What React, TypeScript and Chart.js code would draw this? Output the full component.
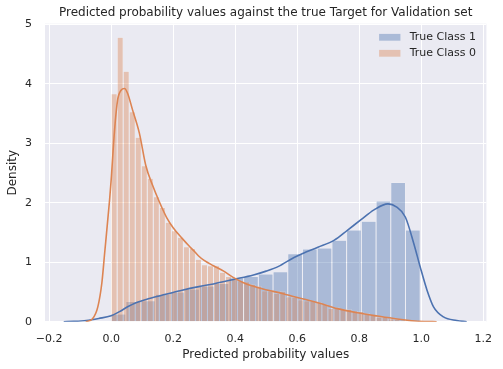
import React, { useEffect, useRef } from 'react';
import { Chart, registerables } from 'chart.js';

Chart.register(...registerables);

// ---------- data ----------
const CHART_TITLE = 'Predicted probability values against the true Target for Validation set';
const X_TITLE = 'Predicted probability values';
const Y_TITLE = 'Density';
const CLASS1_LABEL = 'True Class 1';
const CLASS0_LABEL = 'True Class 0';

const xTickValues = [-0.2, 0, 0.2, 0.4, 0.6, 0.8, 1.0, 1.2];
const yTickValues = [0, 1, 2, 3, 4, 5];

// histogram of True Class 1 (21 equal bins over its range)
const class1BinRange = [0.0, 0.997];
const class1Density = [
  0.13, 0.34, 0.35, 0.46, 0.5, 0.55, 0.6, 0.64, 0.74, 0.76, 0.8,
  0.84, 1.14, 1.22, 1.24, 1.37, 1.54, 1.69, 2.03, 2.34, 1.54,
];

// histogram of True Class 0 (50 equal bins over its range)
const class0BinRange = [0.0, 0.971];
const class0Density = [
  3.83, 4.78, 4.21, 3.53, 3.1, 2.62, 2.41, 2.1, 1.92, 1.67,
  1.53, 1.42, 1.26, 1.23, 1.05, 0.955, 0.94, 0.94, 0.83, 0.76,
  0.71, 0.69, 0.67, 0.63, 0.6, 0.52, 0.52, 0.48, 0.51, 0.42,
  0.41, 0.37, 0.35, 0.34, 0.325, 0.29, 0.22, 0.24, 0.21, 0.21,
  0.185, 0.17, 0.14, 0.11, 0.08, 0.08, 0.05, 0.04, 0.02, 0.015,
];

// KDE curves
const class1KdeX = [
  -0.153, -0.12, -0.08, -0.04, 0.0, 0.027, 0.053, 0.08, 0.123, 0.176, 0.229,
  0.283, 0.33, 0.395, 0.459, 0.5, 0.54, 0.59, 0.62, 0.667, 0.72, 0.763,
  0.805, 0.848, 0.893, 0.92, 0.949, 0.976, 0.997, 1.019, 1.04, 1.072, 1.115, 1.147,
];
const class1KdeY = [
  0, 0.005, 0.02, 0.055, 0.1, 0.17, 0.25, 0.32, 0.39, 0.46, 0.53,
  0.59, 0.635, 0.71, 0.785, 0.85, 0.93, 1.08, 1.15, 1.25, 1.37, 1.54,
  1.71, 1.88, 1.98, 1.93, 1.76, 1.32, 0.92, 0.53, 0.25, 0.08, 0.02, 0,
];
const class0KdeX = [
  -0.082, -0.06, -0.043, -0.03, -0.021, -0.005, 0.0, 0.011, 0.021, 0.032,
  0.043, 0.053, 0.069, 0.091, 0.112, 0.133, 0.155, 0.18, 0.2, 0.229, 0.25,
  0.267, 0.283, 0.3, 0.33, 0.363, 0.395, 0.427, 0.459, 0.49, 0.523, 0.555,
  0.587, 0.62, 0.667, 0.73, 0.795, 0.859, 0.923, 0.97, 1.01, 1.05,
];
const class0KdeY = [
  0, 0.05, 0.25, 0.65, 1.15, 2.05, 2.38, 3.22, 3.73, 3.89,
  3.92, 3.84, 3.56, 3.17, 2.62, 2.3, 2.02, 1.74, 1.58, 1.4, 1.28,
  1.19, 1.1, 1.03, 0.94, 0.85, 0.74, 0.655, 0.595, 0.55, 0.51, 0.47,
  0.425, 0.38, 0.32, 0.22, 0.15, 0.095, 0.045, 0.017, 0.004, 0,
];

// ---------- styles ----------
const FONT = "'DejaVu Sans', 'Liberation Sans', sans-serif";
const TEXT = '#262626';
const BG = '#EAEAF2';
const BLUE = '#4C72B0';
const ORANGE = '#DD8452';
const BLUE_FILL = 'rgba(76,114,176,0.4)';
const ORANGE_FILL = 'rgba(221,132,82,0.4)';
const EDGE = 'rgba(255,255,255,0.45)';
const X_MIN = -0.2134;
const X_MAX = 1.2106;
const Y_MAX = 5.008;

function histPoints(range: number[], dens: number[]) {
  const w = (range[1] - range[0]) / dens.length;
  return dens.map((d, i) => ({ x: range[0] + (i + 0.5) * w, y: d }));
}
function curvePoints(xs: number[], ys: number[]) {
  return xs.map((x, i) => ({ x, y: ys[i] }));
}
function fmtX(v: number) {
  const s = Math.abs(v).toFixed(1);
  return v < -1e-9 ? '\u2212' + s : s;
}

const bgPlugin = {
  id: 'seabornBg',
  beforeDraw(chart: any) {
    const { ctx, chartArea: a } = chart;
    ctx.save();
    ctx.fillStyle = BG;
    ctx.fillRect(a.left, a.top, a.right - a.left, a.bottom - a.top);
    ctx.restore();
  },
};

const legendPlugin = {
  id: 'seabornLegend',
  afterDraw(chart: any) {
    const { ctx, chartArea: a } = chart;
    const items = chart.data.datasets.filter((d: any) => d.type === 'bar').reverse();
    ctx.save();
    ctx.font = `11px ${FONT}`;
    ctx.textBaseline = 'middle';
    ctx.textAlign = 'left';
    items.forEach((d: any, i: number) => {
      const cy = a.top + 13.6 + i * 16;
      ctx.fillStyle = d.backgroundColor;
      ctx.fillRect(a.right - 107.3, cy - 3.4, 21.3, 6.8);
      ctx.fillStyle = TEXT;
      ctx.fillText(d.label, a.right - 76.7, cy);
    });
    ctx.restore();
  },
};

function hiddenX() {
  return {
    type: 'linear',
    display: false,
    offset: false,
    grid: { offset: false },
    min: X_MIN,
    max: X_MAX,
    afterBuildTicks: (s: any) => {
      s.ticks = [];
    },
  };
}

export default function App() {
  const ref = useRef<HTMLCanvasElement | null>(null);
  useEffect(() => {
    if (!ref.current) return;
    const barCommon = {
      type: 'bar',
      borderColor: EDGE,
      borderWidth: 0.5,
      borderSkipped: 'start',
      inflateAmount: 0,
      categoryPercentage: 1,
      barPercentage: 1,
      grouped: false,
      yAxisID: 'y',
    };
    const chart = new Chart(ref.current, {
      type: 'bar',
      data: {
        datasets: [
          {
            type: 'line',
            label: 'kde0',
            data: curvePoints(class0KdeX, class0KdeY),
            borderColor: ORANGE,
            borderWidth: 1.6,
            pointRadius: 0,
            cubicInterpolationMode: 'monotone',
            fill: false,
            xAxisID: 'x',
            yAxisID: 'y',
            order: 0,
          },
          {
            type: 'line',
            label: 'kde1',
            data: curvePoints(class1KdeX, class1KdeY),
            borderColor: BLUE,
            borderWidth: 1.6,
            pointRadius: 0,
            cubicInterpolationMode: 'monotone',
            fill: false,
            xAxisID: 'x',
            yAxisID: 'y',
            order: 1,
          },
          {
            ...barCommon,
            label: CLASS0_LABEL,
            data: histPoints(class0BinRange, class0Density),
            backgroundColor: ORANGE_FILL,
            xAxisID: 'xb0',
            order: 2,
          },
          {
            ...barCommon,
            label: CLASS1_LABEL,
            data: histPoints(class1BinRange, class1Density),
            backgroundColor: BLUE_FILL,
            xAxisID: 'xb1',
            order: 3,
          },
        ],
      } as any,
      options: {
        animation: false,
        responsive: false,
        devicePixelRatio: 1,
        layout: { padding: { top: 0, right: 13, bottom: 0, left: 0 } },
        scales: {
          x: {
            type: 'linear',
            offset: false,
            min: X_MIN,
            max: X_MAX,
            afterBuildTicks: (s: any) => {
              s.ticks = xTickValues.map((v) => ({ value: v }));
            },
            afterFit: (s: any) => {
              s.height = 47.3;
            },
            grid: { color: '#ffffff', lineWidth: 1, drawTicks: false, offset: false },
            border: { display: false },
            ticks: {
              font: { family: FONT, size: 11 },
              color: TEXT,
              padding: 11,
              maxRotation: 0,
              autoSkip: false,
              callback: (v: any) => fmtX(Number(v)),
            },
            title: {
              display: true,
              text: X_TITLE,
              font: { family: FONT, size: 12 },
              color: TEXT,
              padding: { top: 0, bottom: 6.8 },
            },
          },
          xb0: hiddenX(),
          xb1: hiddenX(),
          y: {
            type: 'linear',
            min: 0,
            max: Y_MAX,
            afterBuildTicks: (s: any) => {
              s.ticks = yTickValues.map((v) => ({ value: v }));
            },
            afterFit: (s: any) => {
              s.width = 45;
            },
            grid: { color: '#ffffff', lineWidth: 1, drawTicks: false },
            border: { display: false },
            ticks: {
              font: { family: FONT, size: 11 },
              color: TEXT,
              padding: 13,
              callback: (v: any) => String(v),
            },
            title: {
              display: true,
              text: Y_TITLE,
              font: { family: FONT, size: 12 },
              color: TEXT,
              padding: { top: 5.8, bottom: 0 },
            },
          },
        } as any,
        plugins: {
          legend: { display: false },
          tooltip: { enabled: false },
          title: {
            display: true,
            text: CHART_TITLE,
            fullSize: false,
            font: { family: FONT, size: 12, weight: 'normal' },
            color: TEXT,
            padding: { top: 6, bottom: 3.3 },
          },
        },
      } as any,
      plugins: [bgPlugin, legendPlugin],
    });
    return () => chart.destroy();
  }, []);
  return (
    <canvas
      ref={ref}
      width={503}
      height={369}
      style={{ position: 'absolute', left: 0, top: 0, width: 503, height: 369, display: 'block' }}
    />
  );
}
